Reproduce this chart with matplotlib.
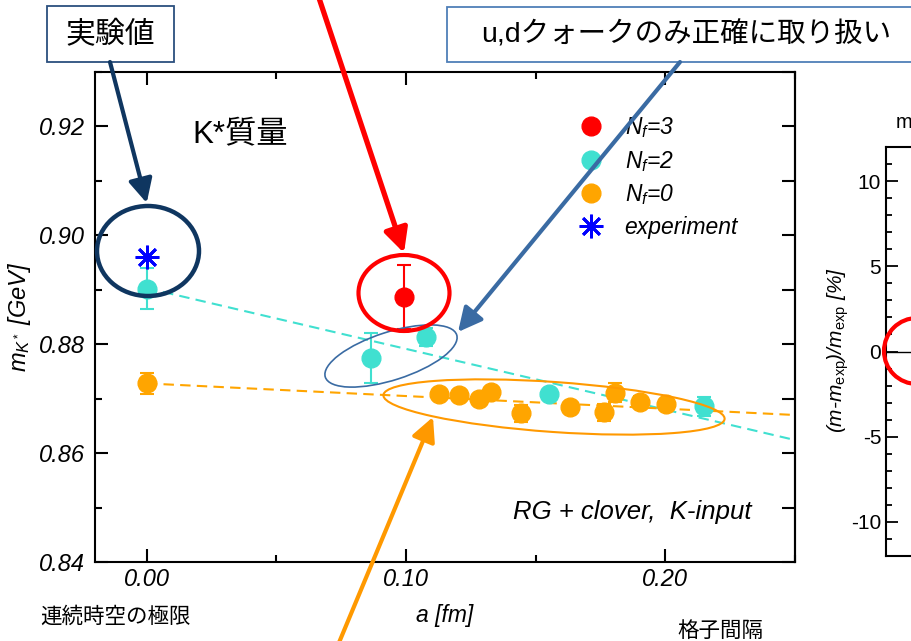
import matplotlib
matplotlib.use("Agg")
import matplotlib.pyplot as plt
import numpy as np
from matplotlib.patches import Ellipse, Rectangle
from matplotlib.lines import Line2D
from matplotlib.ticker import MultipleLocator, FormatStrFormatter

W, H = 912, 641

# K* mass vs lattice spacing a [fm]
nf3_a = [0.0993]
nf3_m = [0.8887]
nf3_err = [0.0059]

nf2_a = [0.0, 0.0863, 0.1075, 0.1551, 0.2148]
nf2_m = [0.8902, 0.8775, 0.8813, 0.8708, 0.8686]
nf2_err = [0.0038, 0.0046, 0.0017, 0.0008, 0.0017]

nf0_a = [0.0, 0.1127, 0.1203, 0.1280, 0.1326, 0.1445, 0.1631, 0.1763, 0.1805, 0.1901, 0.2001]
nf0_m = [0.8728, 0.8709, 0.8706, 0.8700, 0.8713, 0.8673, 0.8684, 0.8675, 0.8711, 0.8694, 0.8690]
nf0_err = [0.0020, 0.0006, 0.0006, 0.0008, 0.0006, 0.0016, 0.0010, 0.0016, 0.0018, 0.0010, 0.0008]

exp_a = [0.0]
exp_m = [0.8961]

# continuum extrapolations: intercept, slope
nf2_fit = [0.8903, -0.1116]
nf0_fit = [0.8728, -0.0232]
fit_a = [0.0, 0.25]

RED = "#FF0000"
CYAN = "#40E0D0"
ORANGE = "#FFA500"
BLUE = "#0000FF"
NAVY = "#0F3660"
STEEL = "#3A6BA3"

plt.rcParams["font.family"] = ["Liberation Sans", "Noto Sans CJK JP"]
plt.rcParams["mathtext.fontset"] = "custom"
plt.rcParams["mathtext.it"] = "Liberation Sans:italic"
plt.rcParams["mathtext.rm"] = "Liberation Sans"
plt.rcParams["axes.unicode_minus"] = False

fig = plt.figure(figsize=(W / 100, H / 100), dpi=100)

# main panel
ax = fig.add_axes([95 / W, 1 - 562 / H, 700 / W, 490 / H])
x = np.array(fit_a)
ax.plot(x, nf2_fit[0] + nf2_fit[1] * x, ls=(0, (5, 3)), color=CYAN, lw=1.5, zorder=2)
ax.plot(x, nf0_fit[0] + nf0_fit[1] * x, ls=(0, (5, 3)), color=ORANGE, lw=1.5, zorder=2)

eb = dict(fmt="o", ms=13.5, capsize=5, elinewidth=1.5, capthick=1.5, zorder=3)
ax.errorbar(nf0_a, nf0_m, yerr=nf0_err, color=ORANGE, **eb)
ax.errorbar(nf2_a, nf2_m, yerr=nf2_err, color=CYAN, **eb)
ax.errorbar(nf3_a, nf3_m, yerr=nf3_err, color=RED, **eb)
ax.plot(exp_a, exp_m, ls="none", marker=(8, 2, 0), ms=17, mew=2, color=BLUE, zorder=4)

ax.set_xlim(-0.02, 0.25)
ax.set_ylim(0.84, 0.93)
ax.xaxis.set_major_locator(MultipleLocator(0.1))
ax.xaxis.set_minor_locator(MultipleLocator(0.05))
ax.yaxis.set_major_locator(MultipleLocator(0.02))
ax.yaxis.set_minor_locator(MultipleLocator(0.01))
ax.xaxis.set_major_formatter(FormatStrFormatter("%.2f"))
ax.yaxis.set_major_formatter(FormatStrFormatter("%.2f"))
ax.tick_params(which="both", direction="in", top=True, right=False, width=1.5)
ax.tick_params(which="major", length=9.5)
ax.tick_params(which="minor", length=5)
ax.tick_params(axis="x", labelsize=17, pad=4.5)
ax.tick_params(axis="y", labelsize=17, pad=7)
for lab in ax.get_xticklabels() + ax.get_yticklabels():
    lab.set_style("italic")
for sp in ax.spines.values():
    sp.set_linewidth(1.5)

# right side ticks all the same length
sec = ax.secondary_yaxis("right")
sec.set_yticks(np.arange(0.84, 0.931, 0.01))
sec.tick_params(direction="in", length=9.5, width=1.5, labelright=False)
sec.spines["right"].set_linewidth(1.5)

ax.set_ylabel(r"$m_{K^*}$ [GeV]", fontsize=17, style="italic")
ax.yaxis.set_label_coords(33 / W, 1 - 317 / H, transform=fig.transFigure)
ax.set_xlabel("a [fm]", fontsize=16.5, style="italic")
ax.xaxis.set_label_coords(445 / W, 1 - 604 / H, transform=fig.transFigure)

handles = [
    Line2D([], [], ls="none", marker="o", ms=13.5, color=RED),
    Line2D([], [], ls="none", marker="o", ms=13.5, color=CYAN),
    Line2D([], [], ls="none", marker="o", ms=13.5, color=ORANGE),
    Line2D([], [], ls="none", marker=(8, 2, 0), ms=17, mew=2, color=BLUE),
]
labels = [r"$N_f$=3", r"$N_f$=2", r"$N_f$=0", "experiment"]
ax.legend(handles, labels, loc="upper left", bbox_to_anchor=(580 / W, 1 - 115.5 / H),
          bbox_transform=fig.transFigure, frameon=False, borderpad=0, borderaxespad=0,
          handlelength=1.0, handletextpad=0.95, labelspacing=0.37,
          prop={"style": "italic", "size": 16.5})

# partial second panel on the right
ax2 = fig.add_axes([886 / W, 1 - 556 / H, 300 / W, 409 / H])
ax2.set_ylim(-12, 12)
ax2.set_xlim(0, 1)
ax2.axhline(0, color="black", lw=1)
ax2.yaxis.set_major_locator(MultipleLocator(5))
ax2.yaxis.set_minor_locator(MultipleLocator(1))
ax2.set_xticks([])
ax2.tick_params(which="both", direction="in", width=1.3, labelsize=15, pad=3.5)
ax2.tick_params(which="major", length=8.5)
ax2.tick_params(which="minor", length=4.3)
for sp in ax2.spines.values():
    sp.set_linewidth(1.5)
ax2.set_ylabel(r"(m-m$_{\mathrm{exp}}$)/m$_{\mathrm{exp}}$ [%]", fontsize=15, style="italic")
ax2.yaxis.set_label_coords(851 / W, 1 - 350 / H, transform=fig.transFigure)

# overlay in pixel coordinates for the slide annotations
ov = fig.add_axes([0, 0, 1, 1], zorder=10)
ov.set_xlim(0, W)
ov.set_ylim(H, 0)
ov.axis("off")
ov.patch.set_alpha(0)

ov.add_patch(Rectangle((46.7, 6), 127.3, 55.7, facecolor="white", edgecolor="#2B4F7E", lw=1.3))
ov.text(110, 35, "実験値", fontsize=21.5, ha="center", va="center", family="Noto Sans CJK JP")
ov.add_patch(Rectangle((447, 6.7), 480, 55, facecolor="white", edgecolor="#4F7FB8", lw=1.3))
ov.text(686, 35, "u,dクォークのみ正確に取り扱い", fontsize=20.5, ha="center", va="center")

ov.text(240, 135, "K*質量", fontsize=22.5, ha="center", va="center")
ov.text(632, 512, "RG + clover,  K-input", fontsize=18.5, style="italic", ha="center", va="center")
ov.text(115, 617, "連続時空の極限", fontsize=15.5, ha="center", va="center")
ov.text(720, 631, "格子間隔", fontsize=15.5, ha="center", va="center")
ov.text(896, 123, "m", fontsize=14.5, ha="left", va="center")

ov.add_patch(Ellipse((148, 251), 102, 90, fill=False, edgecolor=NAVY, lw=3.2))
ov.add_patch(Ellipse((391, 356), 138, 48, angle=-17.8, fill=False, edgecolor=STEEL, lw=1.2))
ov.add_patch(Ellipse((404, 293), 91, 76, fill=False, edgecolor=RED, lw=3))
ov.add_patch(Ellipse((554, 407), 342, 50, angle=4, fill=False, edgecolor="#FF9900", lw=1.5))
ov.add_patch(Ellipse((917, 351), 66, 66, fill=False, edgecolor=RED, lw=3, clip_on=False))


def arrow(start, tip, color, lw):
    ov.annotate("", xy=tip, xytext=start, annotation_clip=False,
                arrowprops=dict(arrowstyle="-|>,head_length=0.8,head_width=0.4",
                                color=color, lw=lw, shrinkA=0, shrinkB=0,
                                mutation_scale=18))


arrow((110, 62), (146.7, 203), NAVY, 3)
arrow((318, -5), (404, 253), RED, 3.8)
arrow((680, 62), (458, 332), STEEL, 3)
arrow((338, 645), (433, 417), "#FF9900", 3)

fig.savefig("out.png", dpi=100)
